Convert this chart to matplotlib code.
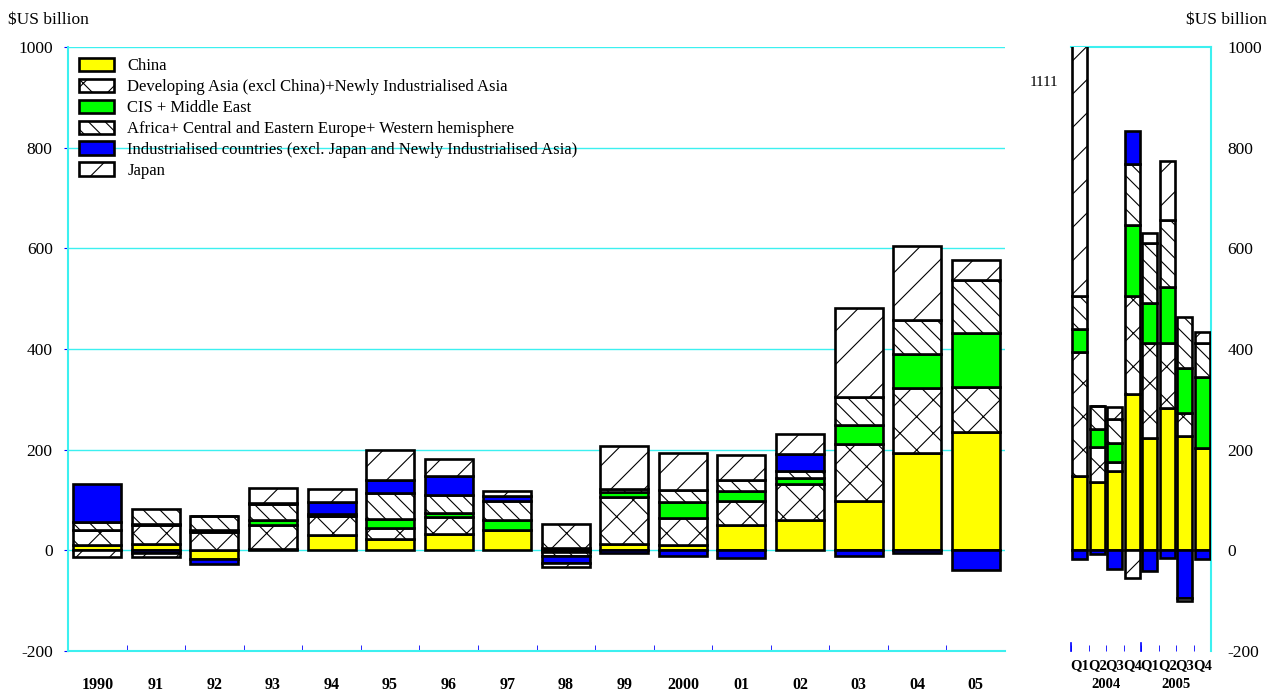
import numpy as np
import matplotlib
matplotlib.use('Agg')
from matplotlib import pyplot as plt
from matplotlib.patches import Patch
from matplotlib.transforms import blended_transform_factory

plt.rcParams['font.family'] = ['Liberation Serif', 'DejaVu Serif']
plt.rcParams['hatch.linewidth'] = 0.8

years = ['1990', '91', '92', '93', '94', '95', '96', '97', '98', '99',
         '2000', '01', '02', '03', '04', '05']
quarters = ['Q1', 'Q2', 'Q3', 'Q4', 'Q1', 'Q2', 'Q3', 'Q4']
quarter_years = ['2004', '2005']

series = ['China',
          'Developing Asia (excl China)+Newly Industrialised Asia',
          'CIS + Middle East',
          'Africa+ Central and Eastern Europe+ Western hemisphere',
          'Industrialised countries (excl. Japan and Newly Industrialised Asia)',
          'Japan']

# annual, $US billion
china_y = [11, 12, -18, 2, 30, 22, 32, 41, 5, 13, 11, 51, 61, 99, 193, 236]
devasia_y = [29, 38, 37, 48, 38, 22, 35, 0, 48, 93, 53, 47, 71, 113, 130, 88]
cis_y = [0, 3, 3, 11, 1, 18, 8, 20, -3, 9, 32, 19, 11, 38, 67, 107]
africa_y = [17, 29, 28, 31, 4, 51, 35, 37, -8, 6, 23, 23, 15, 55, 68, 106]
indust_y = [75, -5, -10, 3, 23, 27, 37, 9, -14, -5, -12, -15, 33, -12, -5, -39]
japan_y = [-13, -8, 0, 28, 25, 59, 35, 10, -9, 86, 75, 50, 40, 176, 147, 40]

# quarterly (annualised), 2004-2005
china_q = [147, 135, 157, 311, 224, 282, 228, 204]
devasia_q = [248, 70, 18, 194, 188, 130, 44, 0]
cis_q = [45, 36, 39, 141, 80, 111, 90, 140]
africa_q = [66, 46, 47, 121, 118, 134, 102, 68]
indust_q = [-18, -8, -38, 66, -42, -15, -95, -18]
japan_q = [605, 0, 24, -54, 20, 117, -5, 22]

colors = ['#FFFF00', 'white', '#00FF00', 'white', '#0000FF', 'white']
hatches = [None, 'x', None, '\\\\', None, '/']
CYAN = '#3CF0F0'


def stacked(ax, data, width):
    n = len(data[0])
    x = np.arange(n)
    pos = np.zeros(n)
    neg = np.zeros(n)
    for vals, c, h in zip(data, colors, hatches):
        v = np.array(vals, dtype=float)
        bottom = np.where(v >= 0, pos, neg)
        ax.bar(x, v, width, bottom=bottom, color=c, hatch=h,
               edgecolor='black', linewidth=1.9, zorder=3)
        pos = pos + np.where(v >= 0, v, 0)
        neg = neg + np.where(v < 0, v, 0)


fig = plt.figure(figsize=(12.68, 6.93), dpi=100)
W, H = 1268., 693.
ax = fig.add_axes([68 / W, 1 - 651 / H, 937 / W, 604 / H])
ax2 = fig.add_axes([1071 / W, 1 - 651 / H, 140 / W, 604 / H])

stacked(ax, [china_y, devasia_y, cis_y, africa_y, indust_y, japan_y], 0.82)
stacked(ax2, [china_q, devasia_q, cis_q, africa_q, indust_q, japan_q], 0.85)

# left panel
ax.set_xlim(-0.5, len(years) - 0.5)
ax.set_ylim(-200, 1000)
ax.set_yticks(range(-200, 1001, 200))
ax.set_yticklabels(['-200', '0', '200', '400', '600', '800', '1000'], fontsize=12.5)
ax.yaxis.grid(True, color=CYAN, linewidth=1.0, zorder=0)
ax.set_axisbelow(True)
ax.set_xticks(np.arange(len(years)))
ax.set_xticklabels(years, fontsize=11.5, fontweight='bold')
ax.set_xticks(np.arange(0.5, len(years) - 0.5, 1), minor=True)
ax.tick_params(axis='x', which='major', length=0, pad=19)
ax.tick_params(axis='x', which='minor', length=4, direction='in', color='#0000FF')
ax.tick_params(axis='y', length=3, direction='out', color='#0000FF', pad=8)
for s in ['top', 'right']:
    ax.spines[s].set_visible(False)
for s in ['left', 'bottom']:
    ax.spines[s].set_color(CYAN)
    ax.spines[s].set_linewidth(1.5)

handles = [Patch(facecolor=c, hatch=h, edgecolor='black', linewidth=1.9)
           for c, h in zip(colors, hatches)]
ax.legend(handles, series, loc='upper left', bbox_to_anchor=(0.0, 1.0),
          frameon=False, fontsize=12, handlelength=2.1, handleheight=0.85,
          labelspacing=0.27, handletextpad=0.8, borderaxespad=0.25)

# right panel (quarters)
ax2.set_xlim(-0.5, len(quarters) - 0.5)
ax2.set_ylim(-200, 1000)
ax2.yaxis.tick_right()
ax2.set_yticks(range(-200, 1001, 200))
ax2.set_yticklabels(['-200', '0', '200', '400', '600', '800', '1000'], fontsize=12.5)
ax2.tick_params(axis='y', length=0, pad=12)
ax2.set_xticks(np.arange(len(quarters)))
ax2.set_xticklabels(quarters, fontsize=10.5, fontweight='bold')
ax2.set_xticks(np.arange(-0.5, len(quarters), 1), minor=True)
ax2.tick_params(axis='x', which='major', length=0, pad=6)
ax2.tick_params(axis='x', which='minor', length=4, direction='in', color='#0000FF')
for s in ['left', 'bottom']:
    ax2.spines[s].set_visible(False)
for s in ['top', 'right']:
    ax2.spines[s].set_color(CYAN)
    ax2.spines[s].set_linewidth(1.5)
for i in [-0.5, 3.5, 7.5]:
    ax2.plot([i, i], [-200, -185], color='#0000FF', linewidth=1.2, clip_on=False)

tr = blended_transform_factory(ax2.transData, fig.transFigure)
for i, yr in enumerate(quarter_years):
    ax2.text(1.5 + 4 * i, 1 - 684 / H, yr, transform=tr, ha='center', va='center',
             fontsize=10.5, fontweight='bold')

fig.text(1030 / W, 1 - 82 / H, '1111', fontsize=11, va='center', ha='left')
fig.text(8 / W, 1 - 20 / H, '$US billion', fontsize=12.5, va='center', ha='left')
fig.text(1267 / W, 1 - 20 / H, '$US billion', fontsize=12.5, va='center', ha='right')

fig.savefig('out.png', dpi=100)
